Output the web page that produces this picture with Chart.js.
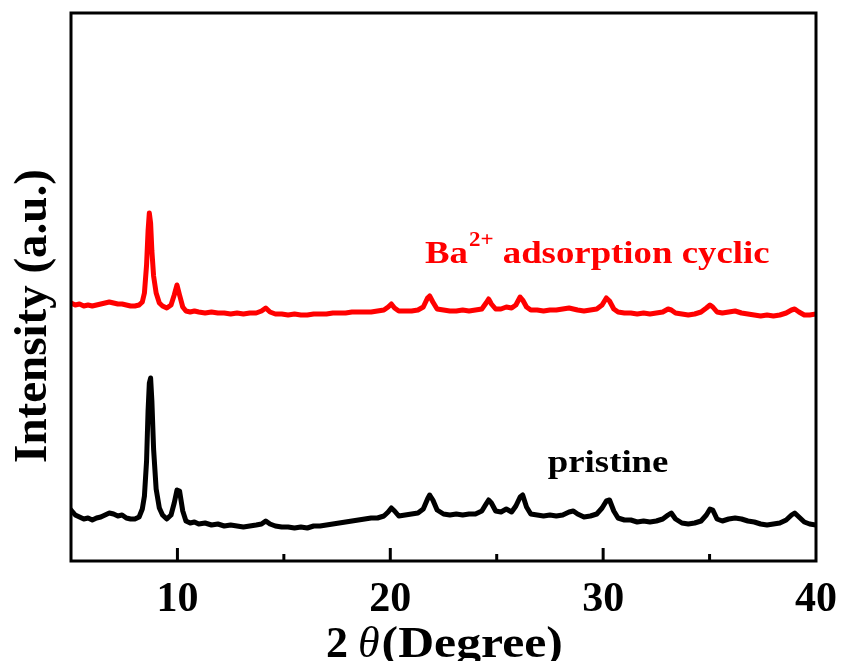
<!DOCTYPE html>
<html>
<head>
<meta charset="utf-8">
<script src="https://cdn.jsdelivr.net/npm/chart.js@4.4.1/dist/chart.umd.min.js"></script>
<style>
  html, body { margin: 0; padding: 0; background: #fff; }
</style>
</head>
<body>
<canvas id="xrd" width="842" height="661"></canvas>
<script>
// XRD patterns: 2theta (degree) vs intensity (a.u., offset traces)
const twoTheta = [
  5.0, 5.2, 5.4, 5.6, 5.8, 6.0, 6.2, 6.4, 6.6, 6.8, 7.0, 7.2, 7.4, 7.6, 7.8, 8.0, 8.2,
  8.35, 8.45, 8.55, 8.62, 8.68, 8.74, 8.8, 8.88, 9.0, 9.15, 9.3, 9.5, 9.7, 9.85, 9.98, 10.1, 10.25,
  10.4, 10.6, 10.8, 11.0, 11.3, 11.6, 11.9, 12.2, 12.5, 12.8, 13.1, 13.4, 13.7, 13.95,
  14.15, 14.35, 14.6, 14.9, 15.2, 15.5, 15.8, 16.1, 16.4, 16.7, 17.0, 17.3, 17.6, 17.9,
  18.2, 18.5, 18.8, 19.1, 19.4, 19.7, 19.9, 20.05, 20.2, 20.4, 20.7, 21.0, 21.3, 21.55,
  21.75, 21.85, 22.0, 22.2, 22.5, 22.8, 23.1, 23.4, 23.7, 24.0, 24.3, 24.5, 24.62, 24.75,
  24.95, 25.2, 25.45, 25.7, 25.9, 26.1, 26.22, 26.4, 26.6, 26.9, 27.2, 27.5, 27.8, 28.1,
  28.4, 28.6, 28.8, 29.1, 29.4, 29.7, 29.95, 30.15, 30.3, 30.5, 30.7, 31.0, 31.3, 31.6,
  31.9, 32.2, 32.5, 32.8, 33.05, 33.2, 33.4, 33.7, 34.0, 34.3, 34.6, 34.85, 35.02, 35.15,
  35.35, 35.6, 35.9, 36.2, 36.5, 36.8, 37.1, 37.4, 37.7, 38.0, 38.3, 38.6, 38.85, 39.0,
  39.2, 39.45, 39.7, 40.0
];

const cyclic = [
  258, 256, 257, 255, 256, 255, 256, 257, 258, 259, 258, 257, 257, 256, 255, 255, 256,
  259, 268, 296, 330, 348, 338, 310, 285, 268, 258, 255, 253, 256, 266, 276, 266, 254,
  250, 249, 250, 249, 248, 249, 248, 248, 247, 248, 247, 248, 248, 250,
  253, 249, 247, 247, 246, 247, 246, 246, 247, 247, 247, 248, 248, 248,
  249, 249, 249, 249, 250, 251, 254, 257, 253, 250, 250, 250, 251, 254,
  263, 265, 259, 252, 251, 250, 250, 251, 250, 251, 252, 258, 262, 257,
  252, 252, 254, 253, 256, 264, 261, 254, 251, 251, 250, 251, 251, 252,
  253, 252, 251, 250, 251, 252, 256, 263, 260, 252, 249, 248, 248, 247,
  248, 247, 248, 249, 252, 251, 248, 247, 246, 247, 249, 253, 256, 254,
  249, 248, 249, 250, 248, 247, 246, 245, 246, 245, 246, 248, 251, 252,
  249, 246, 246, 247
];

const pristine = [
  51, 46, 44, 42, 43, 41, 43, 44, 46, 48, 47, 45, 46, 43, 42, 42, 44,
  52, 65, 100, 150, 178, 183, 160, 112, 72, 53, 46, 42, 46, 58, 71, 70, 50,
  40, 38, 39, 37, 38, 36, 37, 35, 36, 35, 34, 35, 36, 37,
  40, 37, 35, 34, 34, 33, 34, 33, 35, 35, 36, 37, 38, 39,
  40, 41, 42, 43, 43, 45, 49, 53, 50, 45, 46, 47, 48, 52,
  62, 66, 61, 51, 47, 46, 47, 46, 47, 47, 50, 57, 61, 58,
  50, 49, 52, 49, 55, 64, 66, 54, 47, 46, 45, 46, 45, 46,
  49, 50, 47, 44, 45, 47, 53, 60, 61, 50, 43, 41, 41, 39,
  40, 39, 40, 42, 46, 48, 42, 38, 37, 38, 40, 46, 52, 51,
  42, 40, 42, 43, 42, 40, 39, 37, 36, 37, 38, 41, 46, 48,
  44, 39, 37, 36
];

const xTickLabels = [10, 20, 30, 40];
const majorTicks = [10, 20, 30];
const minorTicks = [15, 25, 35];

const serif = '"Liberation Serif", "Times New Roman", serif';

function toPoints(ys) {
  return twoTheta.map((x, i) => ({ x: x, y: ys[i] }));
}

// draw text stretched horizontally like the original figure
function wideText(ctx, text, x, y, font, color, sx) {
  ctx.save();
  ctx.font = font;
  ctx.fillStyle = color;
  ctx.textBaseline = 'alphabetic';
  ctx.textAlign = 'left';
  const w = ctx.measureText(text).width * sx;
  ctx.translate(x, y);
  ctx.scale(sx, 1);
  ctx.fillText(text, 0, 0);
  ctx.restore();
  return w;
}

const framePlugin = {
  id: 'frame',
  afterDraw(chart) {
    const ctx = chart.ctx;
    const area = chart.chartArea;
    const xs = chart.scales.x;
    const ys = chart.scales.y;

    ctx.save();
    ctx.strokeStyle = '#000';
    ctx.lineWidth = 3;
    ctx.strokeRect(area.left, area.top, area.right - area.left, area.bottom - area.top);

    // inward ticks on the bottom axis
    majorTicks.forEach(v => {
      const px = xs.getPixelForValue(v);
      ctx.beginPath();
      ctx.moveTo(px, area.bottom);
      ctx.lineTo(px, area.bottom - 13);
      ctx.stroke();
    });
    minorTicks.forEach(v => {
      const px = xs.getPixelForValue(v);
      ctx.beginPath();
      ctx.moveTo(px, area.bottom);
      ctx.lineTo(px, area.bottom - 7);
      ctx.stroke();
    });
    ctx.restore();

    // curve labels
    let x0 = xs.getPixelForValue(21.63);
    let y0 = ys.getPixelForValue(298);
    x0 += wideText(ctx, 'Ba', x0, y0, 'bold 32px ' + serif, '#ff0000', 1.15);
    x0 += wideText(ctx, '2+', x0 + 1, y0 - 17, 'bold 20px ' + serif, '#ff0000', 1.15);
    wideText(ctx, ' adsorption cyclic', x0 + 1, y0, 'bold 32px ' + serif, '#ff0000', 1.15);

    wideText(ctx, 'pristine', xs.getPixelForValue(27.4), ys.getPixelForValue(89),
      'bold 32px ' + serif, '#000', 1.15);

    // x axis title: 2θ(Degree)
    let tx = 326;
    const ty = 657;
    tx += wideText(ctx, '2', tx, ty, 'bold 44px ' + serif, '#000', 1.0);
    tx += 10;
    tx += wideText(ctx, 'θ', tx, ty, 'italic 44px ' + serif, '#000', 1.0);
    tx += 2;
    wideText(ctx, '(Degree)', tx, ty, 'bold 44px ' + serif, '#000', 1.13);

    // y axis title
    ctx.save();
    ctx.translate(46, 316);
    ctx.rotate(-Math.PI / 2);
    ctx.font = 'bold 47px ' + serif;
    ctx.fillStyle = '#000';
    ctx.textAlign = 'center';
    ctx.textBaseline = 'alphabetic';
    ctx.fillText('Intensity (a.u.)', 0, 0);
    ctx.restore();
  }
};

new Chart(document.getElementById('xrd'), {
  type: 'line',
  data: {
    datasets: [
      {
        label: 'Ba2+ adsorption cyclic',
        data: toPoints(cyclic),
        borderColor: '#ff0000',
        borderWidth: 5,
        borderJoinStyle: 'round',
        borderCapStyle: 'round',
        pointRadius: 0,
        tension: 0,
        fill: false
      },
      {
        label: 'pristine',
        data: toPoints(pristine),
        borderColor: '#000000',
        borderWidth: 5,
        borderJoinStyle: 'round',
        borderCapStyle: 'round',
        pointRadius: 0,
        tension: 0,
        fill: false
      }
    ]
  },
  options: {
    responsive: false,
    devicePixelRatio: 1,
    animation: false,
    layout: { padding: { left: 71, right: 26, top: 13, bottom: 0 } },
    plugins: {
      legend: { display: false },
      tooltip: { enabled: false }
    },
    scales: {
      x: {
        type: 'linear',
        min: 5,
        max: 40,
        afterBuildTicks(scale) {
          scale.ticks = xTickLabels.map(v => ({ value: v }));
        },
        afterFit(scale) {
          scale.height = 100;
          scale.paddingLeft = 0;
          scale.paddingRight = 0;
        },
        grid: { display: false, drawTicks: false },
        border: { display: false },
        ticks: {
          color: '#000',
          padding: 14,
          maxRotation: 0,
          font: { family: serif, size: 42, weight: 'bold' }
        }
      },
      y: {
        display: false,
        min: 0,
        max: 548
      }
    }
  },
  plugins: [framePlugin]
});
</script>
</body>
</html>
